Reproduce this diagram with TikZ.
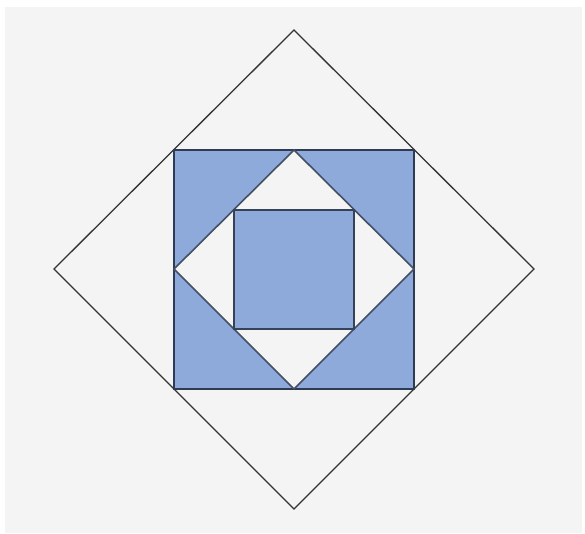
\documentclass[tikz,border=0pt]{standalone}
\definecolor{quiltblue}{HTML}{8EAADB}
\definecolor{quiltedge}{HTML}{2E3B52}
\definecolor{paper}{HTML}{F4F4F4}
\begin{document}
\begin{tikzpicture}[x=1pt,y=-1pt]

		% frame
		\useasboundingbox (0,0) rectangle (585,533);
		\fill[paper] (5,7) rectangle (582,533);

		% define point
		\coordinate (T)  at (294, 30);
		\coordinate (L)  at (54, 269);
		\coordinate (R)  at (534, 269);
		\coordinate (B)  at (294, 509);

		\coordinate (SA) at (174,150);
		\coordinate (SC) at (414,389);

		\coordinate (DT) at (294,150);
		\coordinate (DL) at (174,269);
		\coordinate (DR) at (414,269);
		\coordinate (DB) at (294,389);

		\coordinate (QA) at (234,210);
		\coordinate (QC) at (354,329);

		% outer diamond
		\draw[line width=1.3pt, black!80] (T) -- (R) -- (B) -- (L) -- cycle;

		% square with diamond
		\filldraw[fill=quiltblue, draw=quiltedge, line width=2pt] (SA) rectangle (SC);
		\filldraw[fill=paper, draw=quiltedge!90, line width=1.6pt] (DT) -- (DR) -- (DB) -- (DL) -- cycle;

		% inner square
		\filldraw[fill=quiltblue, draw=quiltedge!90!gray, line width=1.6pt] (QA) rectangle (QC);

	\end{tikzpicture}
\end{document}
